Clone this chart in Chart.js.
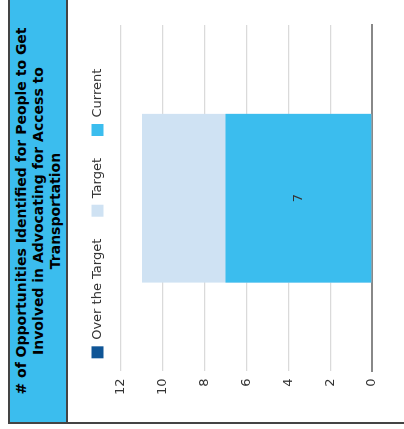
<!doctype html>
<html lang="en">
  <head>
    <meta charset="utf-8">
    <title>Opportunities chart</title>
    <script src="https://cdn.jsdelivr.net/npm/chart.js"></script>
    <style>
      body { margin: 0; background: #fff; }
      #page { position: relative; width: 404px; height: 429px; overflow: hidden; }
      /* the whole card is drawn upright and then turned a quarter to the left */
      #card {
        position: absolute; left: 0; top: 0; width: 429px; height: 404px;
        transform-origin: 0 0; transform: translate(0, 429px) rotate(-90deg);
      }
      #frame {
        position: absolute; left: 5px; top: 8px; width: 422px; height: 420px;
        border: 2px solid #444;
      }
      #titleBox {
        position: absolute; left: 7px; top: 10px; width: 422px; height: 56px;
        background: #3bbdee; border-bottom: 2px solid #444;
        font-family: "DejaVu Sans", sans-serif; font-weight: bold; font-size: 14px;
        line-height: 17px; text-align: center; color: #000;
        display: flex; align-items: center; justify-content: center;
      }
      #chartCanvas { position: absolute; left: 7px; top: 68px; }
    </style>
  </head>
  <body>
    <div id="page">
      <div id="card">
        <div id="frame"></div>
        <div id="titleBox"><div># of Opportunities Identified for People to Get<br>Involved in Advocating for Access to<br>Transportation</div></div>
        <canvas id="chartCanvas" width="421" height="336"></canvas>
      </div>
    </div>

    <script>
      // data
      var categories = [''];
      var overTarget = [0];
      var target = [11];
      var current = [7];
      var yTicks = [0, 2, 4, 6, 8, 10, 12];

      var darkBlue = '#0f5596';
      var paleBlue = '#cfe2f3';
      var skyBlue = '#3bbdee';

      // small stand-in for the datalabels plugin: value in the middle of the Current bar
      var valueLabels = {
        id: 'valueLabels',
        afterDatasetsDraw: function(chart) {
          var ctx = chart.ctx;
          chart.data.datasets.forEach(function(ds, i) {
            if (!ds.showValue) return;
            var meta = chart.getDatasetMeta(i);
            meta.data.forEach(function(bar, j) {
              var p = bar.getCenterPoint();
              ctx.save();
              ctx.fillStyle = '#333';
              ctx.font = '13px "DejaVu Sans"';
              ctx.textAlign = 'center';
              ctx.textBaseline = 'middle';
              ctx.fillText(String(ds.data[j]), p.x, p.y);
              ctx.restore();
            });
          });
        }
      };

      // a bit more room under the legend
      var legendGap = {
        id: 'legendGap',
        beforeInit: function(chart) {
          var fit = chart.legend.fit;
          chart.legend.fit = function() {
            fit.call(this);
            this.height += 7;
          };
        }
      };

      var ctx = document.getElementById('chartCanvas').getContext('2d');
      var myChart = new Chart(ctx, {
        type: 'bar',
        data: {
          labels: categories,
          datasets: [
            { label: 'Over the Target', data: overTarget, backgroundColor: darkBlue, order: 2 },
            { label: 'Target', data: target, backgroundColor: paleBlue, order: 1 },
            { label: 'Current', data: current, backgroundColor: skyBlue, order: 0, showValue: true }
          ]
        },
        options: {
          responsive: false,
          animation: false,
          layout: { padding: { left: 20, right: 24, top: 1, bottom: 32 } },
          datasets: { bar: { categoryPercentage: 1, barPercentage: 0.487 } },
          scales: {
            x: {
              stacked: true,
              grid: { display: false, drawTicks: false },
              border: { display: true, color: '#888', width: 2 },
              ticks: { display: false }
            },
            y: {
              min: 0, max: 12,
              afterBuildTicks: function(axis) { axis.ticks = yTicks.map(function(v) { return { value: v }; }); },
              grid: { color: '#dadada', lineWidth: 1.3, drawTicks: false },
              border: { display: false },
              ticks: { padding: 7, color: '#333', font: { family: 'DejaVu Sans', size: 13 } }
            }
          },
          plugins: {
            legend: {
              reverse: true,
              labels: {
                boxWidth: 12, boxHeight: 12, padding: 22, color: '#333',
                font: { family: 'DejaVu Sans', size: 13 }
              }
            },
            tooltip: { enabled: false }
          }
        },
        plugins: [valueLabels, legendGap]
      });
    </script>
  </body>
</html>
